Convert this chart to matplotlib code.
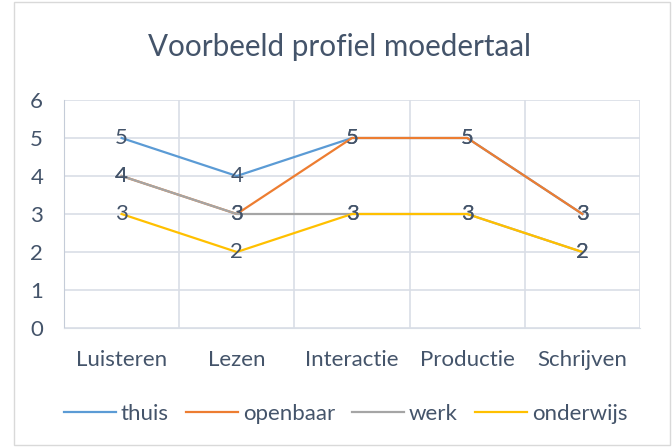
import matplotlib.pyplot as plt
from matplotlib.patches import Rectangle

categories = ['Luisteren', 'Lezen', 'Interactie', 'Productie', 'Schrijven']
series_names = ['thuis', 'openbaar', 'werk', 'onderwijs']
thuis = [5, 4, 5, 5, 3]
openbaar = [4, 3, 5, 5, 3]
werk = [4, 3, 3, 3, 2]
onderwijs = [3, 2, 3, 3, 2]
colors = ['#5B9BD5', '#ED7D31', '#A5A5A5', '#FFC000']

text_color = '#44546A'
grid_color = '#D9DEE6'
plt.rcParams['font.family'] = ['Lato', 'DejaVu Sans']

fig = plt.figure(figsize=(6.72, 4.47), dpi=100)
ax = fig.add_axes([64 / 672, 1 - 328 / 447, 576 / 672, 228 / 447])

# chart border
fig.patches.append(Rectangle((14 / 672, 2 / 447), 656 / 672, 443 / 447,
                             transform=fig.transFigure, fill=False,
                             edgecolor='#D9D9D9', linewidth=1))

x = list(range(len(categories)))
all_values = [thuis, openbaar, werk, onderwijs]
for name, vals, c in zip(series_names, all_values, colors):
    ax.plot(x, vals, color=c, linewidth=1.6, label=name, zorder=3)

for vals in all_values:
    for xi, v in zip(x, vals):
        ax.text(xi, v, str(v), ha='center', va='center', fontsize=16,
                color=text_color, zorder=5)

ax.set_xlim(-0.5, len(categories) - 0.5)
ax.set_ylim(0, 6)
ax.set_yticks(range(0, 7))
ax.set_xticks(x)
ax.set_xticklabels(categories)
ax.set_xticks([i - 0.5 for i in range(len(categories) + 1)], minor=True)
ax.tick_params(axis='both', which='both', length=0, labelsize=16,
               labelcolor=text_color)
ax.tick_params(axis='y', pad=15)
ax.tick_params(axis='x', pad=16)
ax.grid(axis='y', which='major', color=grid_color, linewidth=1.2, zorder=0)
ax.grid(axis='x', which='minor', color=grid_color, linewidth=1.2, zorder=0)
for s in ['top', 'right']:
    ax.spines[s].set_visible(False)
ax.spines['left'].set_color('#C5CCD8')
ax.spines['bottom'].set_color(grid_color)

fig.text(340 / 672, 1 - 47 / 447, 'Voorbeeld profiel moedertaal',
         ha='center', va='center', fontsize=21.3, color=text_color)

ax.legend(loc='center', bbox_to_anchor=(0.489, -0.375), ncol=4, frameon=False,
          fontsize=16, labelcolor=text_color, handlelength=2.34,
          columnspacing=0.77, handletextpad=0.22)

fig.savefig('out.png', dpi=100)
